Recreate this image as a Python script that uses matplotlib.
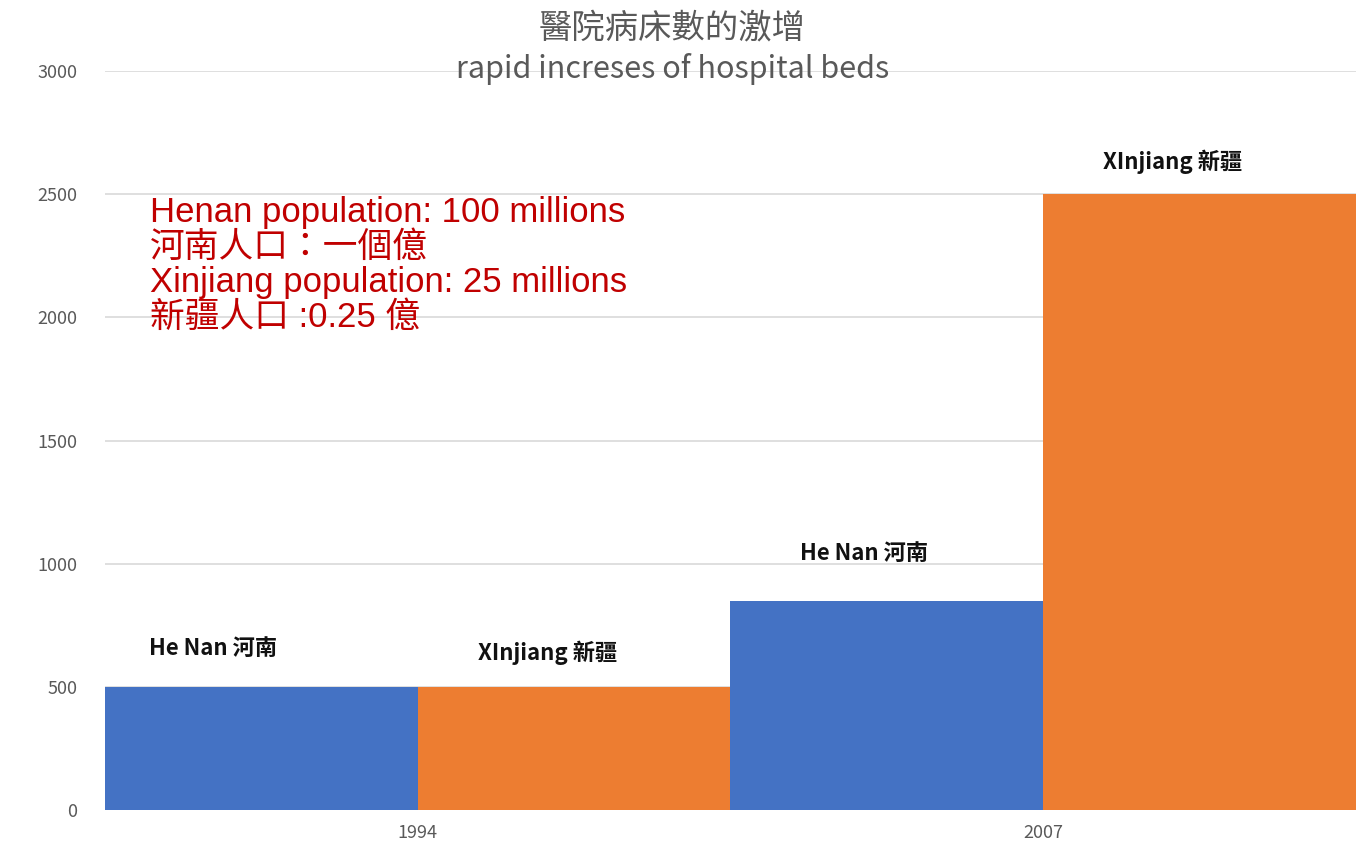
import matplotlib
matplotlib.use("Agg")
import matplotlib.pyplot as plt
import numpy as np

plt.rcParams['font.family'] = ['Noto Sans CJK TC', 'DejaVu Sans']

# data
years = ["1994", "2007"]
henan_beds = [500, 850]
xinjiang_beds = [500, 2500]
henan_label = "He Nan 河南"
xinjiang_label = "XInjiang 新疆"
label_heights = [[655, 640], [1040, 2630]]
note_lines = [
    "Henan population: 100 millions",
    "河南人口：一個億",
    "Xinjiang population: 25 millions",
    "新疆人口 :0.25 億",
]

fig = plt.figure(figsize=(13.56, 8.46), dpi=100)
ax = fig.add_axes([0.0774, 0.0426, 0.9226, 0.8734])

x = np.arange(len(years))
w = 0.5
ax.bar(x - w / 2, henan_beds, width=w, color="#4472C4", zorder=2)
ax.bar(x + w / 2, xinjiang_beds, width=w, color="#ED7D31", zorder=2)

ax.set_xlim(-0.5, 1.5)
ax.set_ylim(0, 3000)
ax.set_yticks(range(0, 3001, 500))
ax.set_xticks(x)
ax.set_xticklabels(years)
ax.tick_params(axis="both", length=0, colors="#595959", labelsize=13)
ax.tick_params(axis="y", pad=20)
ax.tick_params(axis="x", pad=10)
ax.grid(axis="y", color="#D9D9D9", linewidth=1.2, zorder=0)
for s in ax.spines.values():
    s.set_visible(False)

# bar labels, a little left of each bar centre
offsets = [[-0.077, -0.042], [-0.037, -0.043]]
for i in range(len(years)):
    ax.text(x[i] - w / 2 + offsets[i][0], label_heights[i][0], henan_label,
            fontsize=16, fontweight="bold", color="#111111", ha="center", va="center")
    ax.text(x[i] + w / 2 + offsets[i][1], label_heights[i][1], xinjiang_label,
            fontsize=16, fontweight="bold", color="#111111", ha="center", va="center")

# population note
for k, line in enumerate(note_lines):
    ax.text(0.036, 0.808 - k * 0.0472, line, transform=ax.transAxes,
            fontsize=25, color="#C00000", ha="left", va="center",
            family=['Liberation Sans', 'Noto Sans CJK TC'])

fig.text(0.496, 0.967, "醫院病床數的激增", fontsize=24, color="#595959",
         ha="center", va="center")
fig.text(0.496, 0.918, "rapid increses of hospital beds", fontsize=22,
         color="#595959", ha="center", va="center")

fig.savefig("out.png", dpi=100)
